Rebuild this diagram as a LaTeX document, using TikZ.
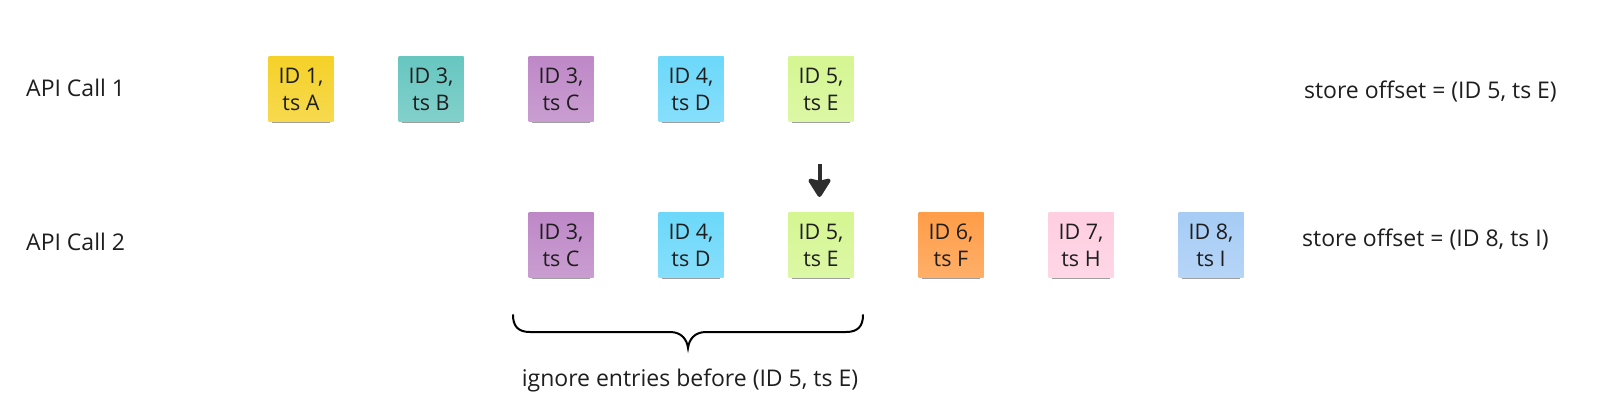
\documentclass[tikz,border=0pt]{standalone}
\usepackage{fontspec}
\setmainfont{Open Sans}
\usetikzlibrary{arrows.meta,shadows}
\definecolor{cyel}{HTML}{F5D128}
\definecolor{cteal}{HTML}{67C6C0}
\definecolor{cviol}{HTML}{BE88C7}
\definecolor{cblue}{HTML}{6CD8FA}
\definecolor{clgreen}{HTML}{D5F692}
\definecolor{corange}{HTML}{FF9D48}
\definecolor{cpink}{HTML}{FFCEE0}
\definecolor{clblue}{HTML}{A6CCF5}
\definecolor{txt}{HTML}{1E1E1E}
\tikzset{
  sticky/.style={minimum width=65pt, minimum height=65pt, inner sep=0pt,
    align=center, text=txt, font=\fontsize{21.5}{27}\selectfont,
    top color=#1, bottom color=#1!82!white, draw=none,
    drop shadow={shadow xshift=0pt, shadow yshift=-6pt, shadow scale=0.88, opacity=0.38, fill=black}},
  lbl/.style={text=txt, font=\fontsize{23}{27}\selectfont, inner sep=0pt},
  brace/.style={line width=2pt, black, line cap=round},
  downarrow/.style={line width=4pt, draw=black!82, -{Stealth[width=26pt,length=21pt,inset=3pt,round]}}
}
\begin{document}
\begin{tikzpicture}[x=1pt,y=-1pt]
\useasboundingbox (0,0) rectangle (1600,418);
% row 1
\node[lbl, anchor=west] (call1) at (26,88) {API Call 1};
\node[sticky=cyel] (a1) at (301,89) {ID 1,\\ts A};
\node[sticky=cteal] (a2) at (431,89) {ID 3,\\ts B};
\node[sticky=cviol] (a3) at (561,89) {ID 3,\\ts C};
\node[sticky=cblue] (a4) at (691,89) {ID 4,\\ts D};
\node[sticky=clgreen] (a5) at (821,89) {ID 5,\\ts E};
\node[lbl, anchor=east] (off1) at (1557,92) {store offset = (ID 5, ts E)};
% row 2
\node[lbl, anchor=west] (call2) at (26,242) {API Call 2};
\node[sticky=cviol] (b3) at (561,245) {ID 3,\\ts C};
\node[sticky=cblue] (b4) at (691,245) {ID 4,\\ts D};
\node[sticky=clgreen] (b5) at (821,245) {ID 5,\\ts E};
\node[sticky=corange] (b6) at (951,245) {ID 6,\\ts F};
\node[sticky=cpink] (b7) at (1081,245) {ID 7,\\ts H};
\node[sticky=clblue] (b8) at (1211,245) {ID 8,\\ts I};
\node[lbl, anchor=west] (off2) at (1302,240) {store offset = (ID 8, ts I)};
% arrow
\coordinate (arrtop) at (819.5,164);
\coordinate (arrtip) at (819.5,197);
\draw[downarrow] (arrtop) -- (arrtip);
% brace
\coordinate (brl) at (513,315);
\coordinate (brr) at (863,315);
\coordinate (brm) at (688,348);
\draw[brace] (brl) .. controls (513,326) and (518,332) .. (530,332)
  -- (670,332) .. controls (682,332) and (687,340) .. (brm)
  .. controls (689,340) and (694,332) .. (706,332)
  -- (846,332) .. controls (858,332) and (863,326) .. (brr);
\node[lbl] (ign) at (690,380) {ignore entries before (ID 5, ts E)};
\end{tikzpicture}
\end{document}
